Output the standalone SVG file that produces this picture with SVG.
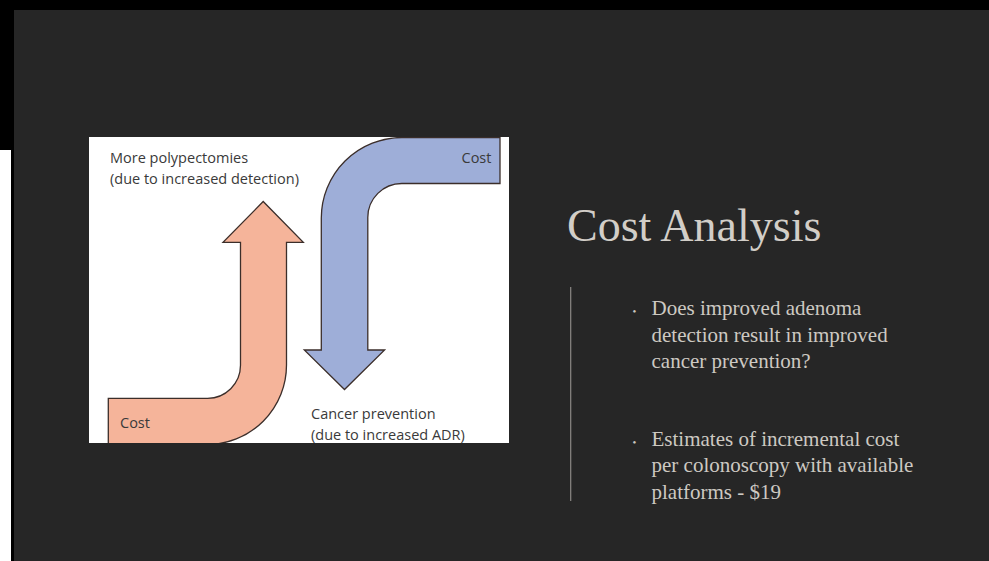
<svg xmlns="http://www.w3.org/2000/svg" width="989" height="561" viewBox="0 0 989 561">
<style>
.fig{font-family:"Open Sans","Liberation Sans",sans-serif;font-size:14.5px;fill:#3a3a3a}
.title{font-family:"Liberation Serif",serif;font-size:46px;fill:#d2cec8}
.body{font-family:"Liberation Serif",serif;font-size:21px;fill:#cdc9c2}
.bul{font-family:"Liberation Serif",serif;font-size:11px;fill:#cdc9c2}
.arrow{stroke:#3b2e2a;stroke-width:1.3;stroke-linejoin:miter}
</style>
<defs>
<clipPath id="panelClip"><rect x="89" y="137" width="420" height="306"/></clipPath>
</defs>
<rect x="0" y="0" width="989" height="561" fill="#000"/>
<rect x="0" y="150" width="11" height="411" fill="#fff"/>
<rect x="14" y="10" width="975" height="551" fill="#262626"/>

<g id="figure">
<rect x="89" y="137" width="420" height="306" fill="#fff"/>
<g clip-path="url(#panelClip)">
<g id="salmon-arrow">
<path class="arrow" fill="#f5b49a" d="M108.3 452 L108.3 398.3 L207 398.3 A33 33 0 0 0 240.5 365 L240.5 242.3 L223 242.3 L263.2 201.5 L303.3 242.3 L286.5 242.3 L286.5 365 A79.5 79.5 0 0 1 207 444.5 L207 452 Z"/>
</g>
<g id="blue-arrow">
<path class="arrow" fill="#9eaed8" d="M500 137.5 L402 137.5 A80.7 80.7 0 0 0 321.3 218 L321.3 350 L304.3 350 L344.5 389.5 L384.6 350 L367.8 350 L367.8 217.5 A34 34 0 0 1 402 183.5 L500 183.5 Z"/>
</g>
</g>
<g id="labels">
<text class="fig" x="110" y="163.3">More polypectomies</text>
<text class="fig" x="110" y="183.5">(due to increased detection)</text>
<text class="fig" x="461.5" y="163.3">Cost</text>
<text class="fig" x="120" y="428.3">Cost</text>
<text class="fig" x="311" y="419.3">Cancer prevention</text>
<text class="fig" x="311" y="440">(due to increased ADR)</text>
</g>
</g>

<g id="title">
<text class="title" x="567" y="240.7">Cost Analysis</text>
</g>
<line x1="570.7" y1="287" x2="570.7" y2="501" stroke="#8c8985" stroke-width="1.2"/>
<g id="bullets">
<text class="bul" x="632.5" y="315">•</text>
<text class="body" x="651.5" y="315">Does improved adenoma</text>
<text class="body" x="651.5" y="341.5">detection result in improved</text>
<text class="body" x="651.5" y="368">cancer prevention?</text>
<text class="bul" x="632.5" y="445.5">•</text>
<text class="body" x="651.5" y="445.5">Estimates of incremental cost</text>
<text class="body" x="651.5" y="472">per colonoscopy with available</text>
<text class="body" x="651.5" y="498.5">platforms - $19</text>
</g>
</svg>
